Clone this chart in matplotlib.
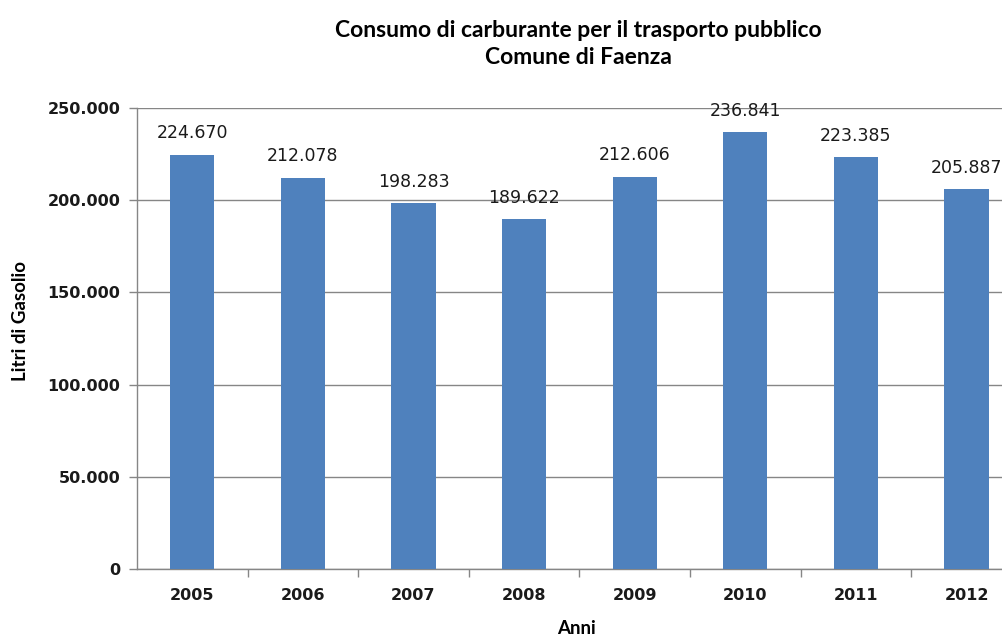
import matplotlib.pyplot as plt
from matplotlib.ticker import FuncFormatter, FixedLocator

anni = ['2005', '2006', '2007', '2008', '2009', '2010', '2011', '2012']
litri = [224670, 212078, 198283, 189622, 212606, 236841, 223385, 205887]

def migliaia(v, pos=None):
    if v == 0:
        return '0'
    return f'{int(v):,}'.replace(',', '.')

fig = plt.figure(figsize=(10.02, 6.35), dpi=100)
ax = fig.add_axes([137 / 1002, 66 / 635, 884.8 / 1002, 461 / 635])

x = range(len(anni))
ax.bar(x, litri, width=0.4, color='#4F81BD', zorder=3)

for i, v in enumerate(litri):
    ax.annotate(migliaia(v), (i, v), xytext=(0, 9), textcoords='offset points',
                ha='center', va='bottom', fontsize=12.5, family='DejaVu Sans', color='#1a1a1a')

ax.set_xlim(-0.5, len(anni) - 0.5)
ax.set_ylim(0, 250000)
ax.set_yticks(range(0, 250001, 50000))
ax.yaxis.set_major_formatter(FuncFormatter(migliaia))
ax.grid(axis='y', color='#868686', linewidth=1, zorder=0)

# categorie al centro, tacche tra una categoria e l'altra
ax.set_xticks(list(x))
ax.set_xticklabels(anni)
ax.xaxis.set_minor_locator(FixedLocator([i + 0.5 for i in range(len(anni))]))
ax.tick_params(axis='x', which='major', length=0, pad=14)
ax.tick_params(axis='x', which='minor', length=6, color='#868686', width=1)
ax.tick_params(axis='y', length=6, color='#868686', width=1, pad=6)
for lab in ax.get_xticklabels() + ax.get_yticklabels():
    lab.set_fontsize(11.5)
    lab.set_fontweight('bold')
    lab.set_family('DejaVu Sans')
    lab.set_color('#1a1a1a')

for s in ['top', 'right']:
    ax.spines[s].set_visible(False)
for s in ['left', 'bottom']:
    ax.spines[s].set_color('#868686')
    ax.spines[s].set_linewidth(1)

fig.text(0.577, 0.931, 'Consumo di carburante per il trasporto pubblico\nComune di Faenza',
         ha='center', va='center', fontsize=16.5, fontweight='bold', family='Lato',
         linespacing=1.35)
fig.text(0.020, 0.494, 'Litri di Gasolio', rotation=90, ha='center', va='center',
         fontsize=13.5, fontweight='bold', family='Lato')
fig.text(0.575, 0.024, 'Anni', ha='center', va='top', fontsize=13.5,
         fontweight='bold', family='Lato')

fig.savefig('out.png', dpi=100)
